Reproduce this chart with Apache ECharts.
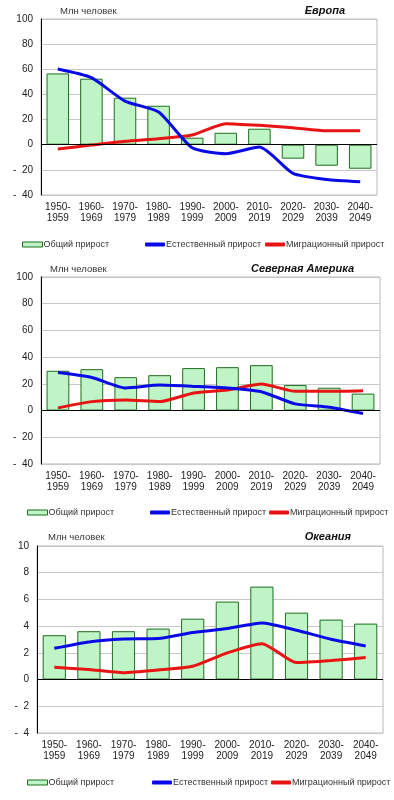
<!DOCTYPE html>
<html><head><meta charset="utf-8">
<script src="https://cdn.jsdelivr.net/npm/echarts@6/dist/echarts.min.js"></script>
<style>html,body{margin:0;padding:0;background:#fff}#c{width:394px;height:800px}</style>
</head><body><div id="c"></div>
<script>
const categories = ['1950-\n1959','1960-\n1969','1970-\n1979','1980-\n1989','1990-\n1999','2000-\n2009','2010-\n2019','2020-\n2029','2030-\n2039','2040-\n2049'];
const seriesNames = ['Общий прирост','Естественный прирост','Миграционный прирост'];
const unitLabel = 'Млн человек';
const regionTitles = ['Европа','Северная Америка','Океания'];

const europeTotal = [56.7, 52.5, 37.4, 31, 5.6, 9.5, 12.7, -11.1, -16.7, -19.1];
const europeNatural = [60.2, 53.3, 34.7, 26, -2.4, -7.2, -1.9, -22.8, -27.6, -29.4];
const europeMigration = [-3.4, -0.3, 2.7, 4.8, 7.7, 16.7, 15.4, 13.5, 11.1, 11.1];

const namericaTotal = [29.8, 31, 25, 26.5, 31.8, 32.5, 34, 19.1, 17.1, 12.7];
const namericaNatural = [28.5, 24.8, 16.9, 19.1, 18.1, 16.9, 14.1, 5, 2.5, -2.2];
const namericaMigration = [2, 6.7, 7.9, 6.7, 13.2, 15.4, 19.9, 14.4, 14.4, 14.9];

const oceaniaTotal = [3.32, 3.62, 3.62, 3.82, 4.56, 5.84, 6.96, 5.01, 4.49, 4.19];
const oceaniaNatural = [2.34, 2.82, 3.04, 3.07, 3.52, 3.82, 4.24, 3.69, 3.02, 2.52];
const oceaniaMigration = [0.92, 0.75, 0.52, 0.72, 1.0, 2.0, 2.69, 1.27, 1.42, 1.65];

const yMin = [-40, -40, -4];
const yMax = [100, 100, 10];
const yStep = [20, 20, 2];

const data = [
  [europeTotal, europeNatural, europeMigration],
  [namericaTotal, namericaNatural, namericaMigration],
  [oceaniaTotal, oceaniaNatural, oceaniaMigration]
];

const FONT = 'Liberation Sans, Arial, sans-serif';
const grids = [
  {left: 41, top: 19, width: 336, height: 176},
  {left: 41, top: 277, width: 339, height: 187},
  {left: 37, top: 546, width: 346, height: 187}
];
const unitPos = [{left: 60, top: 6.5}, {left: 50, top: 264.5}, {left: 48, top: 532}];
const titleRight = [49, 40, 43];
const legendTop = [240, 508, 778];
const legendLeft = [[22, 145, 265], [27, 150, 269], [27, 152, 271]];
const colors = ['#bff5c6', '#0a0ae6', '#e81414'];

const option = {
  animation: false,
  textStyle: {fontFamily: FONT},
  title: [], grid: [], xAxis: [], yAxis: [], series: [], legend: []
};

for (let i = 0; i < 3; i++) {
  option.title.push({text: unitLabel, left: unitPos[i].left, top: unitPos[i].top, padding: 0,
    textStyle: {fontSize: 9.5, fontWeight: 'normal', color: '#333', fontFamily: FONT}});
  option.title.push({text: regionTitles[i], right: titleRight[i], top: unitPos[i].top - 1, padding: 0,
    textStyle: {fontSize: 11, fontWeight: 'bold', fontStyle: 'italic', color: '#111', fontFamily: FONT}});
  option.grid.push(Object.assign({show: true, borderColor: '#b8b8b8', borderWidth: 1, containLabel: false}, grids[i]));
  option.xAxis.push({
    type: 'category', gridIndex: i, data: categories, boundaryGap: true,
    axisLine: {show: false}, axisTick: {show: false},
    axisLabel: {color: '#222', fontSize: 10, lineHeight: 11, margin: 7, interval: 0, fontFamily: FONT}
  });
  option.yAxis.push({
    type: 'value', gridIndex: i, min: yMin[i], max: yMax[i], interval: yStep[i],
    axisLine: {show: true, onZero: false, lineStyle: {color: '#000', width: 1}},
    axisTick: {show: false},
    splitLine: {show: true, lineStyle: {color: '#c8c8c8', width: 1}},
    axisLabel: {color: '#222', fontSize: 10, margin: 8, fontFamily: FONT,
      formatter: v => v < 0 ? '-  ' + Math.abs(v) : String(v)}
  });
  option.series.push({
    name: seriesNames[0], type: 'bar', xAxisIndex: i, yAxisIndex: i, data: data[i][0],
    barCategoryGap: '33%',
    itemStyle: {color: colors[0], borderColor: '#1d6e1d', borderWidth: 1},
    markLine: {silent: true, symbol: 'none', label: {show: false},
      lineStyle: {color: '#000', width: 1, type: 'solid'}, data: [{yAxis: 0}]}
  });
  option.series.push({
    name: seriesNames[1], type: 'line', xAxisIndex: i, yAxisIndex: i, data: data[i][1],
    smooth: 0.2, symbol: 'none', lineStyle: {color: colors[1], width: 3}, itemStyle: {color: colors[1]}, z: 4
  });
  option.series.push({
    name: seriesNames[2], type: 'line', xAxisIndex: i, yAxisIndex: i, data: data[i][2],
    smooth: 0.2, symbol: 'none', lineStyle: {color: colors[2], width: 3}, itemStyle: {color: colors[2]}, z: 3
  });
  for (let k = 0; k < 3; k++) {
    const leg = {
      left: legendLeft[i][k], top: legendTop[i], orient: 'horizontal', padding: 0,
      itemWidth: 20, itemHeight: k === 0 ? 5 : 4, itemGap: 0,
      selectedMode: false,
      textStyle: {fontSize: 9, color: '#333', fontFamily: FONT, padding: [0, 0, 0, -4]}
    };
    if (k === 0) {
      leg.data = [{name: seriesNames[0], icon: 'rect', itemStyle: {color: colors[0], borderColor: '#1d6e1d', borderWidth: 1}}];
    } else {
      leg.data = [{name: seriesNames[k], icon: 'roundRect', itemStyle: {color: colors[k], borderWidth: 0}}];
    }
    option.legend.push(leg);
  }
}

const chart = echarts.init(document.getElementById('c'), null, {renderer: 'canvas'});
chart.setOption(option);
</script>
</body></html>
